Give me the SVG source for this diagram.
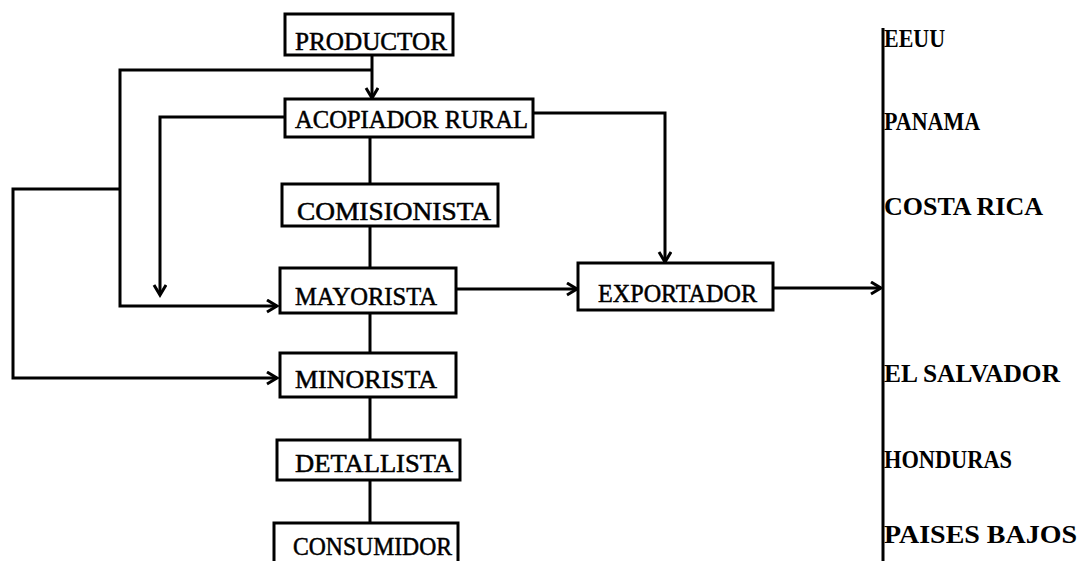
<svg xmlns="http://www.w3.org/2000/svg" width="1080" height="561" viewBox="0 0 1080 561">
<style>
.box{fill:#fff;stroke:#000;stroke-width:3}
.ln{fill:none;stroke:#000;stroke-width:3;stroke-linejoin:miter}
.lbl{font-family:"Liberation Serif","Times New Roman",serif;font-size:25px;fill:#000;stroke:#000;stroke-width:0.5}
.cty{font-family:"Liberation Serif","Times New Roman",serif;font-size:25px;font-weight:bold;fill:#000}
</style>
<defs>
<marker id="ah" markerUnits="userSpaceOnUse" markerWidth="16" markerHeight="16" refX="11" refY="7" orient="auto">
<path d="M1,1 L11,7 L1,13" fill="none" stroke="#000" stroke-width="3"/>
</marker>
</defs>
<rect width="1080" height="561" fill="#fff"/>
<g id="connectors">
<line class="ln" x1="372" y1="55" x2="372" y2="98" marker-end="url(#ah)"/>
<line class="ln" x1="370" y1="137" x2="370" y2="184"/>
<line class="ln" x1="370" y1="226" x2="370" y2="268"/>
<line class="ln" x1="370" y1="313" x2="370" y2="353"/>
<line class="ln" x1="370" y1="397" x2="370" y2="440"/>
<line class="ln" x1="370" y1="480" x2="370" y2="523"/>
<polyline class="ln" points="372,70 120,70 120,306 277,306" marker-end="url(#ah)"/>
<polyline class="ln" points="120,189 13,189 13,378 277,378" marker-end="url(#ah)"/>
<polyline class="ln" points="285,117 160,117 160,295" marker-end="url(#ah)"/>
<line class="ln" x1="456" y1="289" x2="577" y2="289" marker-end="url(#ah)"/>
<polyline class="ln" points="533,113 665,113 665,262" marker-end="url(#ah)"/>
<line class="ln" x1="773" y1="288" x2="881" y2="288" marker-end="url(#ah)"/>
<line class="ln" x1="883" y1="28" x2="883" y2="561"/>
</g>
<g id="productor"><rect class="box" x="285" y="14" width="168" height="41"/><text class="lbl" x="295" y="50" textLength="152" lengthAdjust="spacingAndGlyphs">PRODUCTOR</text></g>
<g id="acopiador"><rect class="box" x="285" y="99" width="248" height="38"/><text class="lbl" x="295" y="128" textLength="233" lengthAdjust="spacingAndGlyphs">ACOPIADOR RURAL</text></g>
<g id="comisionista"><rect class="box" x="282" y="184" width="216" height="42"/><text class="lbl" x="297" y="220" textLength="194" lengthAdjust="spacingAndGlyphs">COMISIONISTA</text></g>
<g id="mayorista"><rect class="box" x="280" y="268" width="176" height="45"/><text class="lbl" x="295" y="305" textLength="142" lengthAdjust="spacingAndGlyphs">MAYORISTA</text></g>
<g id="minorista"><rect class="box" x="280" y="353" width="176" height="44"/><text class="lbl" x="295" y="388" textLength="142" lengthAdjust="spacingAndGlyphs">MINORISTA</text></g>
<g id="detallista"><rect class="box" x="277" y="440" width="183" height="40"/><text class="lbl" x="295" y="472" textLength="158" lengthAdjust="spacingAndGlyphs">DETALLISTA</text></g>
<g id="consumidor"><rect class="box" x="274" y="523" width="184" height="45"/><text class="lbl" x="293" y="555" textLength="159" lengthAdjust="spacingAndGlyphs">CONSUMIDOR</text></g>
<g id="exportador"><rect class="box" x="578" y="263" width="195" height="47"/><text class="lbl" x="598" y="302" textLength="159" lengthAdjust="spacingAndGlyphs">EXPORTADOR</text></g>
<g id="paises">
<text class="cty" x="884" y="47" textLength="61" lengthAdjust="spacingAndGlyphs">EEUU</text>
<text class="cty" x="884" y="130" textLength="96" lengthAdjust="spacingAndGlyphs">PANAMA</text>
<text class="cty" x="884" y="215" textLength="159" lengthAdjust="spacingAndGlyphs">COSTA RICA</text>
<text class="cty" x="884" y="382" textLength="176" lengthAdjust="spacingAndGlyphs">EL SALVADOR</text>
<text class="cty" x="884" y="468" textLength="128" lengthAdjust="spacingAndGlyphs">HONDURAS</text>
<text class="cty" x="884" y="543" textLength="193" lengthAdjust="spacingAndGlyphs">PAISES BAJOS</text>
</g>
</svg>
